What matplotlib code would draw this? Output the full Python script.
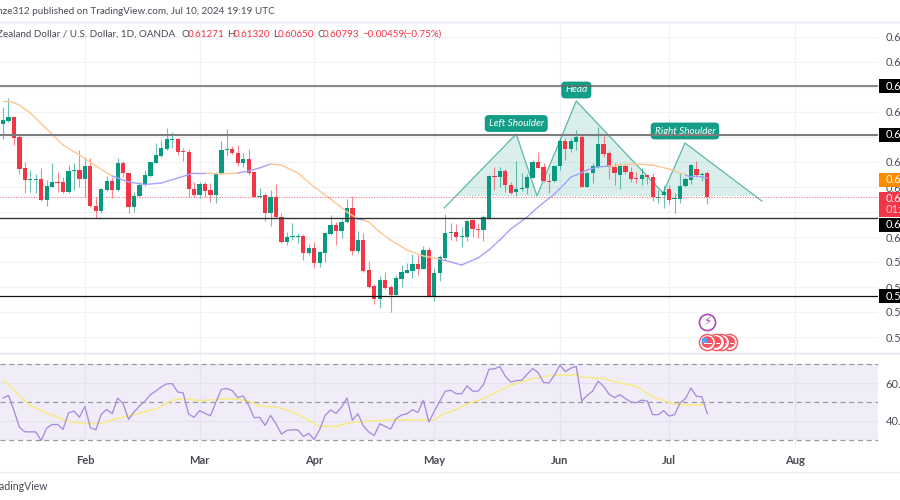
import numpy as np
import matplotlib
matplotlib.use("Agg")
import matplotlib.pyplot as plt
from matplotlib.lines import Line2D
from matplotlib.patches import Rectangle

plt.rcParams['font.family'] = ['Lato', 'DejaVu Sans']

# daily candles, prices in 1/10000
opens = [6226,6232,6240,6200,6138,6114,6114,6116,6074,6100,6110,6110,6090,6132,6134,6116,6142,6062,6052,6094,
         6112,6094,6148,6128,6060,6082,6104,6122,6148,6162,6176,6194,6196,6172,6170,6096,6084,6106,6094,6084,
         6128,6174,6176,6168,6148,6156,6130,6080,6084,6048,6080,6040,5990,6000,6000,6002,5968,5978,5948,5968,
         6006,6024,6012,6030,6058,5972,5994,5934,5902,5876,5914,5900,5884,5916,5928,5932,5946,5936,5974,5882,
         5928,5958,6008,6010,6000,6000,6034,6016,6014,6038,6122,6120,6132,6104,6090,6096,6098,6118,6150,6140,
         6112,6112,6142,6192,6176,6190,6200,6100,6128,6140,6186,6168,6140,6124,6142,6130,6118,6116,6124,6120,
         6078,6084,6096,6076,6076,6102,6114,6136,6124,6127.1]
highs = [6260,6278,6240,6206,6150,6134,6126,6138,6114,6148,6130,6120,6144,6148,6174,6160,6158,6080,6098,6122,
         6120,6158,6152,6128,6090,6110,6134,6150,6188,6194,6218,6210,6198,6178,6176,6110,6110,6110,6108,6130,
         6192,6216,6182,6184,6168,6176,6130,6098,6088,6094,6106,6048,6010,6028,6008,6006,5986,5990,5972,6010,
         6044,6030,6036,6076,6082,6012,6008,5952,5906,5922,5930,5904,5924,5944,5948,5966,5964,5982,5980,5938,
         5964,6046,6028,6026,6020,6034,6036,6028,6044,6124,6140,6140,6136,6110,6152,6128,6126,6154,6170,6148,
         6128,6144,6198,6198,6198,6214,6204,6130,6148,6220,6202,6172,6148,6148,6148,6140,6130,6138,6126,6128,
         6094,6104,6104,6088,6128,6120,6146,6152,6130,6132.0]
lows = [6196,6230,6184,6126,6088,6090,6088,6072,6062,6100,6090,6088,6088,6094,6100,6080,6060,6038,6048,6092,
        6078,6092,6120,6048,6050,6080,6102,6120,6148,6160,6174,6178,6164,6152,6080,6080,6078,6080,6070,6068,
        6126,6162,6166,6142,6140,6124,6080,6078,6032,6022,6038,5988,5984,5994,5988,5954,5964,5938,5940,5950,
        6004,5984,5998,6028,5964,5968,5930,5898,5866,5858,5896,5850,5884,5900,5928,5918,5924,5936,5880,5872,
        5912,5954,5994,5992,5980,5992,6000,5998,5992,6036,6094,6100,6090,6086,6082,6092,6086,6118,6138,6110,
        6088,6110,6134,6154,6170,6174,6100,6100,6108,6138,6160,6116,6104,6096,6126,6110,6108,6104,6106,6072,
        6068,6058,6066,6048,6068,6100,6106,6120,6112,6065.0]
closes = [6234,6240,6198,6136,6114,6116,6116,6074,6102,6110,6108,6090,6132,6134,6116,6142,6062,6052,6096,6112,
          6094,6148,6128,6060,6082,6104,6124,6150,6164,6178,6196,6196,6170,6170,6096,6084,6106,6092,6084,6128,
          6174,6176,6168,6148,6156,6128,6080,6082,6048,6080,6040,5990,6000,6002,6002,5968,5978,5948,5970,6008,
          6024,6012,6030,6058,5972,5994,5932,5900,5876,5914,5898,5884,5918,5930,5934,5946,5936,5974,5880,5928,
          5960,6008,6010,6000,6002,6032,6016,6014,6040,6122,6120,6132,6104,6088,6096,6098,6120,6150,6138,6112,
          6110,6142,6192,6176,6192,6200,6100,6128,6142,6186,6166,6140,6128,6142,6130,6116,6116,6124,6120,6080,
          6080,6090,6074,6078,6102,6116,6144,6124,6126,6079.3]

# moving average on the candles, and the stretches where it shows blue
ma_days = [0,1,3,5,8,11,14,17,20,23,26,29,32,35,37,40,43,45,47,49,51,54,57,60,63,65,66,67,69,71,74,77,79,80,
           82,84,87,89,91,93,96,98,101,103,104,105,107,109,111,113,116,119,122,125,126,127,129]
ma_vals = [6272,6272,6264,6248,6216,6184,6164,6142,6122,6110,6105,6108,6118,6128,6128,6126,6128,6132,6138,6146,
           6144,6128,6100,6076,6050,6036,6034,6030,6010,5994,5974,5962,5958,5956,
           5950,5944,5958,5974,5994,6016,6040,6060,6086,6108,6120,6124,6134,6140,6142,6144,6146,6144,6136,6124,
           6120,6122,6118]
ma_blue = [(20,37),(43,49),(65,66),(80,111),(125,129)]

# RSI pane
rsi = [52.1,53.5,45.6,36.7,34.2,34.2,34.2,29.6,36.2,38.1,38.1,35.5,44.3,45.2,42.0,47.7,36.4,35.3,43.5,46.1,
       43.8,52.1,49.1,40.8,44.7,47.9,50.4,53.9,55.8,58.0,59.6,59.7,55.3,54.8,43.6,41.9,45.4,44.0,42.7,50.0,
       56.7,57.1,56.0,52.3,53.2,48.2,41.7,41.9,37.6,42.9,38.5,33.0,35.0,35.3,35.3,31.8,33.4,30.2,35.5,42.9,
       45.8,44.0,47.3,52.1,40.3,43.8,37.3,34.1,32.3,38.5,37.1,35.7,41.2,43.1,43.8,45.9,44.5,50.9,39.4,45.2,
       50.4,55.7,56.2,54.4,54.4,58.5,55.8,55.7,59.2,67.3,67.5,68.8,63.6,60.6,61.3,61.5,64.7,67.7,65.6,60.3,
       60.1,64.2,69.5,66.1,67.9,68.8,50.5,53.5,55.8,61.0,58.3,54.1,52.3,53.9,51.8,50.0,49.6,51.0,50.5,43.3,
       43.3,45.4,42.6,43.3,49.5,51.8,57.4,53.0,52.8,43.8]
rsi_ma_days = [0,2,3,5,8,12,15,18,20,24,28,31,33,36,42,45,47,50,53,56,58,61,63,66,71,79,81,82,85,88,93,97,101,
               105,106,110,113,116,119,123,125,129]
rsi_ma = [61.5,56.5,53,48.2,44.2,39.7,38.5,38.7,40.6,43.3,46.3,50.9,51.8,50.7,51.8,50.5,47.9,47.3,45,40.3,37.1,
          37.1,38.7,39.7,40.6,40.6,44.3,44.7,48.9,51.8,58.9,62.4,64.2,64.3,63.1,62.4,60.1,58.3,52.7,48.8,48.4,48.6]

# drawn levels and price labels
levels = [0.6302, 0.6204, 0.6038, 0.5882]
level_labels = ["0.6300", "0.6204", "0.6038", "0.5882"]
level_colors = ["#666666", "#7d7d7d", "#333333", "#111111"]
level_widths = [1.1, 1.5, 1.0, 0.9]
price_ticks = [0.58, 0.585, 0.59, 0.595, 0.60, 0.605, 0.61, 0.615, 0.62, 0.625, 0.63, 0.635, 0.64]
hidden_ticks = [0.605, 0.62, 0.63]  # sit behind the boxes
last_price = 0.60793
ma_label = 0.6114

# head and shoulders path
pattern_days = [80.8, 94.0, 97.8, 105.0, 120.9, 124.9, 139.0]
pattern_vals = [0.6058, 0.6206, 0.6082, 0.6272, 0.6088, 0.6188, 0.6072]
pattern_base = 0.6084
pattern_names = ["Left Shoulder", "Head", "Right Shoulder"]
pattern_label_days = [94.0, 105.0, 124.9]
pattern_label_vals = [0.6227, 0.6294, 0.6212]

month_days = [15, 36, 57, 79, 102, 122, 145]
month_names = ["Feb", "Mar", "Apr", "May", "Jun", "Jul", "Aug"]
event_days = [129, 130.5, 131.5, 133]

opens = np.array(opens) / 1e4
highs = np.array(highs) / 1e4
lows = np.array(lows) / 1e4
closes = np.array(closes) / 1e4
ma_vals = np.array(ma_vals) / 1e4
days = np.arange(len(closes))

RED = "#f23645"
GREEN = "#089981"
GRID = "#f1f2f5"
TEXT = "#4a4c55"

fig = plt.figure(figsize=(9, 5), dpi=100)
# panes are placed with figure pixels
ax = fig.add_axes([0, 1 - 353 / 500, 878 / 900, (353 - 24) / 500])
ax_rsi = fig.add_axes([0, 1 - 448 / 500, 878 / 900, (448 - 354) / 500])
xlim = (-0.55, 160.26)
for a in (ax, ax_rsi):
    a.set_xlim(*xlim)
    for s in a.spines.values():
        s.set_visible(False)
    a.yaxis.tick_right()
    a.set_xticks(month_days)
    a.tick_params(length=0, labelsize=8, labelcolor=TEXT)
    a.grid(True, color=GRID, lw=0.8)
    a.set_axisbelow(True)
ax.set_ylim(0.5768, 0.6426)
ax.set_yticks(price_ticks)
ax.set_yticklabels(["" if t in hidden_ticks else f"{t:.4f}" for t in price_ticks])
ax.tick_params(axis='y', pad=5.5)
ax.tick_params(axis='x', labelbottom=False)

# pattern goes under the candles
path_x = np.array(pattern_days)
path_y = np.array(pattern_vals)
ax.fill_between(path_x, path_y, pattern_base, where=path_y > pattern_base, interpolate=True,
                color=GREEN, alpha=0.15, lw=0, zorder=1.5)
ax.plot(path_x, path_y, color="#5cb8a6", lw=0.9, zorder=1.6)
inside = np.interp(pattern_base, path_y[:2], path_x[:2])
ax.plot([inside, path_x[-1] - 1.3], [pattern_base, pattern_base], color="#8fd0c2", lw=0.8, ls=':', zorder=1.6)

# candles
colors = [GREEN if c >= o else RED for o, c in zip(opens, closes)]
ax.vlines(days, lows, highs, colors=colors, lw=0.8, alpha=0.6, zorder=2)
ax.bar(days, np.maximum(np.abs(closes - opens), 0.00025), bottom=np.minimum(opens, closes),
       width=0.78, color=colors, zorder=2.1)

# moving average, colour by stretch
for k in range(len(ma_days) - 1):
    d0, d1 = ma_days[k], ma_days[k + 1]
    blue = any(a0 <= d0 and d1 <= a1 for a0, a1 in ma_blue)
    ax.plot([d0, d1], [ma_vals[k], ma_vals[k + 1]], color="#a3a3fb" if blue else "#fcc795",
            lw=1.0, solid_capstyle='round', zorder=2.2)

ax.axhline(last_price, color=RED, lw=0.7, ls=':', alpha=0.8, zorder=2.3)
for lev, col, w in zip(levels, level_colors, level_widths):
    ax.axhline(lev, color=col, lw=w, zorder=3.5)

for name, d, v in zip(pattern_names, pattern_label_days, pattern_label_vals):
    ax.text(d, v, name, color="#ffffff", fontsize=7.2, style='italic', ha='center', va='center', zorder=3,
            bbox=dict(boxstyle="round,pad=0.32", fc=GREEN, ec=GREEN, alpha=0.95))


# right gutter boxes, in day units so they share the x scale
def price_box(y0, y1, color):
    ax.add_patch(Rectangle((160.4, y0), 6, y1 - y0, fc=color, ec='none', clip_on=False, zorder=5))


def price_text(y, s, color="#ffffff"):
    ax.text(161.7, y, s, color=color, fontsize=8, va='center', ha='left', clip_on=False, zorder=6)


for lab, shown in zip(level_labels, [0.6302, 0.6204, 0.6024, 0.5882]):
    price_box(shown - 0.0014, shown + 0.0014, "#000000")
    price_text(shown, lab)
price_box(ma_label - 0.0014, ma_label + 0.0014, "#ff8c00")
price_text(ma_label, "0.6114")
price_box(0.6040, 0.6090, RED)
price_text(0.6076, "0.60793")
price_text(0.6054, "01:40:41", "#ffc9ce")

# economic events, leftmost on top
for n, d in enumerate(event_days[::-1]):
    z = 7 + n
    ax.scatter(d, 0.5790, s=135, fc="#ffffff", ec="#f7525f", lw=1.0, clip_on=False, zorder=z)
    ax.scatter(d, 0.5790, s=70, fc="#f7525f", ec='none', clip_on=False, zorder=z + 0.1)
    ax.plot([d - 0.7, d + 0.7], [0.5788, 0.5788], color="#ffffff", lw=0.7, zorder=z + 0.2)
    ax.scatter(d - 0.45, 0.5793, s=14, marker='s', fc="#5b9cf6", ec='none', zorder=z + 0.3)
ax.scatter(event_days[0], 0.5830, s=135, fc="#ffffff", ec="#ab47bc", lw=1.2, zorder=7)
ax.text(event_days[0], 0.5830, "\u26a1", color="#ab47bc", fontsize=8.5, ha='center', va='center', zorder=7.1,
        family='DejaVu Sans')

# RSI pane
ax_rsi.set_ylim(25.66, 75.4)
ax_rsi.axhspan(30, 70, color="#7e57c2", alpha=0.1, lw=0, zorder=1)
for lvl in (70, 50, 30):
    ax_rsi.axhline(lvl, color="#9598a1", lw=0.9, dashes=(4, 3), zorder=1.5)
ax_rsi.set_yticks([40, 60])
ax_rsi.set_yticklabels(["40.00", "60.00"])
ax_rsi.tick_params(axis='y', pad=5.5)
ax_rsi.set_xticklabels(month_names, fontweight='bold', color=TEXT)
ax_rsi.tick_params(axis='x', pad=5)
ax_rsi.plot(rsi_ma_days, rsi_ma, color="#f8eb83", lw=1.1, zorder=2)
ax_rsi.plot(days, rsi, color="#a88cdc", lw=0.95, zorder=2.2)


def fig_y(py):
    return 1 - py / 500


# separators
fig.add_artist(Line2D([0, 1], [fig_y(21.5)] * 2, color="#f0f1f8", lw=2))
fig.add_artist(Line2D([0, 1], [fig_y(353)] * 2, color="#e2e3ee", lw=1))
fig.add_artist(Line2D([0, 1], [fig_y(472)] * 2, color="#eceef4", lw=1))

# header and footer text
fig.text(275 / 900, fig_y(12), "Kenyanze312 published on TradingView.com, Jul 10, 2024 19:19 UTC",
         ha='right', va='center', fontsize=7.1, color=TEXT)
fig.text(175 / 900, fig_y(34), "New Zealand Dollar / U.S. Dollar, 1D, OANDA",
         ha='right', va='center', fontsize=7.1, color=TEXT)
header_ohlc = [("O", 181), ("0.61271", 188), ("H", 227), ("0.61320", 234), ("L", 273), ("0.60650", 278),
               ("C", 317), ("0.60793", 323), ("\u22120.00459", 362), ("(\u22120.75%)", 404)]
for s, px in header_ohlc:
    fig.text(px / 900, fig_y(34), s, ha='left', va='center', fontsize=7.1,
             color=TEXT if s in "OHLC" else RED)
fig.text(48 / 900, fig_y(486), "TradingView", ha='right', va='center', fontsize=7.6, color=TEXT)

fig.savefig("out.png", dpi=100)
